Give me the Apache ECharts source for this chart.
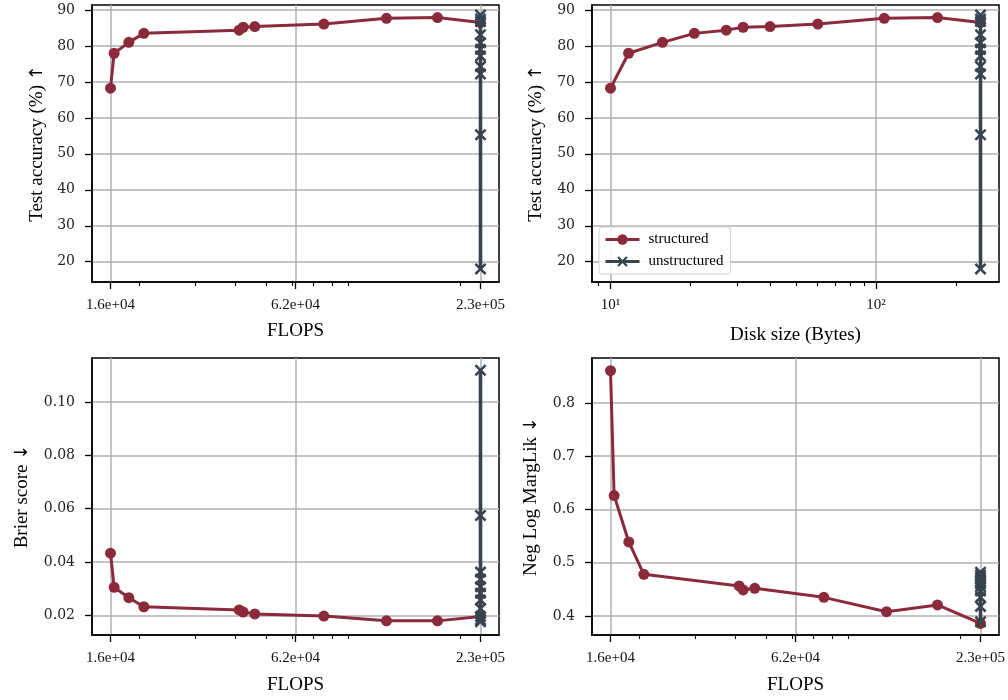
<!DOCTYPE html>
<html><head><meta charset="utf-8">
<script src="https://cdn.jsdelivr.net/npm/echarts@6/dist/echarts.min.js"></script>
<style>html,body{margin:0;padding:0;background:#fff}#c{width:1008px;height:700px}</style>
</head><body><div id="c"></div>
<script>
// ---- data ----
const flopsStructured = [16320, 16750, 18610, 20730, 41070, 42270, 45950, 75410, 118200, 170400, 232000];
const diskStructured  = [10, 11.7, 15.7, 20.7, 27.3, 31.6, 39.9, 60.4, 107.5, 170.6, 247.7];
const accStructured   = [68.25, 77.97, 81.0, 83.5, 84.4, 85.2, 85.4, 86.1, 87.7, 87.9, 86.5];
const brierStructured = [0.0433, 0.0305, 0.0266, 0.0232, 0.0220, 0.0212, 0.0205, 0.0197, 0.0179, 0.0179, 0.0195];
const nlmlStructured  = [0.8605, 0.6261, 0.539, 0.4783, 0.4564, 0.4489, 0.452, 0.435, 0.408, 0.4207, 0.386];

const flopsUnstructured = [232000, 232000, 232000, 232000, 232000, 232000, 232000, 232000, 232000, 232000, 232000];
const diskUnstructured  = [247.7, 247.7, 247.7, 247.7, 247.7, 247.7, 247.7, 247.7, 247.7, 247.7, 247.7];
const accUnstructured   = [88.6, 87.5, 86.8, 83.1, 80.9, 79.1, 77.2, 74.3, 72.2, 55.3, 18.0];
const brierUnstructured = [0.0176, 0.0183, 0.0195, 0.0225, 0.0257, 0.0283, 0.0307, 0.0335, 0.0362, 0.0574, 0.1119];
const nlmlUnstructured  = [0.389, 0.418, 0.435, 0.447, 0.455, 0.460, 0.465, 0.469, 0.473, 0.477, 0.482];

// ticks
const flopsTicks = [16320, 61530, 232000];
const flopsTickLabels = ['1.6e+04', '6.2e+04', '2.3e+05'];
const flopsMinorTicks = [20000, 30000, 40000, 50000, 60000, 70000, 80000, 90000, 200000];
const diskTicks = [10, 100];
const diskTickLabels = ['10\u00B9', '10\u00B2'];
const diskMinorTicks = [9, 20, 30, 40, 50, 60, 70, 80, 90, 200];
const accTicks = [20, 30, 40, 50, 60, 70, 80, 90];
const brierTicks = [0.02, 0.04, 0.06, 0.08, 0.10];
const nlmlTicks = [0.4, 0.5, 0.6, 0.7, 0.8];

// ---- styling ----
const SERIF = 'Liberation Serif, Times New Roman, serif';
const TICKFONT = 'DejaVu Serif, serif';
const C_STRUCT = '#8b2a3b';
const C_UNSTRUCT = '#37444f';
const XSYM = 'path://M1.5,0 L5,3.5 L8.5,0 L10,1.5 L6.5,5 L10,8.5 L8.5,10 L5,6.5 L1.5,10 L0,8.5 L3.5,5 L0,1.5 Z';

function logRangeWithMargin(lo, hi) {
  const a = Math.log10(lo), b = Math.log10(hi), m = (b - a) * 0.05;
  return [Math.pow(10, a - m), Math.pow(10, b + m)];
}
const flopsRange = logRangeWithMargin(flopsStructured[0], flopsStructured[flopsStructured.length - 1]);
const diskRange = logRangeWithMargin(diskStructured[0], diskStructured[diskStructured.length - 1]);

function nearestLabel(v, ticks, labels) {
  let best = 0, bd = Infinity;
  ticks.forEach((t, i) => { const d = Math.abs(Math.log(v) - Math.log(t)); if (d < bd) { bd = d; best = i; } });
  return labels[best];
}

const nameStyle = {
  fontFamily: SERIF, fontSize: 19, color: '#000',
  rich: { arr: { fontFamily: 'DejaVu Sans, sans-serif', fontSize: 18, color: '#000' } }
};

function majorX(grid, range, ticks, labels, name, nameGap) {
  return {
    type: 'log', logBase: 10, gridIndex: grid, min: range[0], max: range[1], position: 'bottom',
    name: name, nameLocation: 'middle', nameGap: nameGap,
    nameTextStyle: nameStyle,
    axisLine: { show: true, onZero: false, lineStyle: { color: '#000', width: 1.5 } },
    axisTick: { show: true, length: 7, customValues: ticks, lineStyle: { color: '#000', width: 1.3 } },
    axisLabel: { show: true, customValues: ticks, margin: 16, fontFamily: SERIF, fontSize: 15, color: '#111',
      formatter: v => nearestLabel(v, ticks, labels) },
    splitLine: { show: true, lineStyle: { color: '#b0b0b0', width: 1.5 } },
    minorTick: { show: false }, minorSplitLine: { show: false }
  };
}
function minorX(grid, range, minor) {
  return {
    type: 'log', logBase: 10, gridIndex: grid, min: range[0], max: range[1], position: 'bottom',
    axisLine: { show: false },
    axisTick: { show: true, length: 4, customValues: minor, lineStyle: { color: '#000', width: 1.1 } },
    axisLabel: { show: false },
    splitLine: { show: false }
  };
}
function yAxis(grid, min, max, ticks, fmt, name, nameGap) {
  return {
    type: 'value', gridIndex: grid, min: min, max: max, position: 'left',
    name: name, nameLocation: 'middle', nameGap: nameGap, nameRotate: 90,
    nameTextStyle: nameStyle,
    axisLine: { show: true, onZero: false, lineStyle: { color: '#000', width: 1.5 } },
    axisTick: { show: true, length: 7, customValues: ticks, lineStyle: { color: '#000', width: 1.3 } },
    axisLabel: { show: true, customValues: ticks, margin: 17, fontFamily: TICKFONT, fontSize: 14, color: '#222', formatter: fmt },
    splitLine: { show: true, lineStyle: { color: '#b0b0b0', width: 1.5 } }
  };
}

function zip(a, b) { return a.map((v, i) => [v, b[i]]); }

function pair(grid, xs, ysS, xu, ysU) {
  return [
    { name: 'structured', type: 'line', xAxisIndex: grid * 2, yAxisIndex: grid, data: zip(xs, ysS),
      symbol: 'circle', symbolSize: 11, showAllSymbol: true, color: C_STRUCT,
      lineStyle: { color: C_STRUCT, width: 3 }, itemStyle: { color: C_STRUCT }, z: 2 },
    { name: 'unstructured', type: 'line', xAxisIndex: grid * 2, yAxisIndex: grid, data: zip(xu, ysU),
      symbol: XSYM, symbolSize: 12, showAllSymbol: true, color: C_UNSTRUCT,
      lineStyle: { color: C_UNSTRUCT, width: 3.6 }, itemStyle: { color: C_UNSTRUCT }, z: 3 }
  ];
}

const grids = [
  { left: 92, top: 5, width: 407, height: 277 },
  { left: 592, top: 5, width: 407, height: 277 },
  { left: 92, top: 358, width: 407, height: 277 },
  { left: 592, top: 358, width: 407, height: 277 }
].map(g => Object.assign({ show: true, borderColor: '#000', borderWidth: 1.5, containLabel: false }, g));

const option = {
  animation: false,
  backgroundColor: '#fff',
  grid: grids,
  legend: {
    data: ['structured', 'unstructured'], orient: 'vertical', left: 599, top: 227,
    itemWidth: 34, itemHeight: 13, itemGap: 7, padding: [5, 7, 5, 5],
    lineStyle: { width: 3 },
    borderColor: '#d0d0d0', borderWidth: 1, borderRadius: 3, backgroundColor: 'rgba(255,255,255,0.85)',
    textStyle: { fontFamily: SERIF, fontSize: 15, color: '#000', padding: [0, 0, 0, 4] }
  },
  xAxis: [
    majorX(0, flopsRange, flopsTicks, flopsTickLabels, 'FLOPS', 40), minorX(0, flopsRange, flopsMinorTicks),
    majorX(1, diskRange, diskTicks, diskTickLabels, 'Disk size (Bytes)', 44), minorX(1, diskRange, diskMinorTicks),
    majorX(2, flopsRange, flopsTicks, flopsTickLabels, 'FLOPS', 41), minorX(2, flopsRange, flopsMinorTicks),
    majorX(3, flopsRange, flopsTicks, flopsTickLabels, 'FLOPS', 41), minorX(3, flopsRange, flopsMinorTicks)
  ],
  yAxis: [
    yAxis(0, 14.36, 91.39, accTicks, v => String(Math.round(v)), 'Test accuracy (%) {arr|\u2191}', 45),
    yAxis(1, 14.36, 91.39, accTicks, v => String(Math.round(v)), 'Test accuracy (%) {arr|\u2191}', 46),
    yAxis(2, 0.0126, 0.1165, brierTicks, v => v.toFixed(2), 'Brier score {arr|\u2193}', 60),
    yAxis(3, 0.3643, 0.8844, nlmlTicks, v => v.toFixed(1), 'Neg Log MargLik {arr|\u2193}', 51)
  ],
  series: [].concat(
    pair(0, flopsStructured, accStructured, flopsUnstructured, accUnstructured),
    pair(1, diskStructured, accStructured, diskUnstructured, accUnstructured),
    pair(2, flopsStructured, brierStructured, flopsUnstructured, brierUnstructured),
    pair(3, flopsStructured, nlmlStructured, flopsUnstructured, nlmlUnstructured)
  )
};

const chart = echarts.init(document.getElementById('c'), null, { renderer: 'canvas' });
chart.setOption(option);
</script>
</body></html>
